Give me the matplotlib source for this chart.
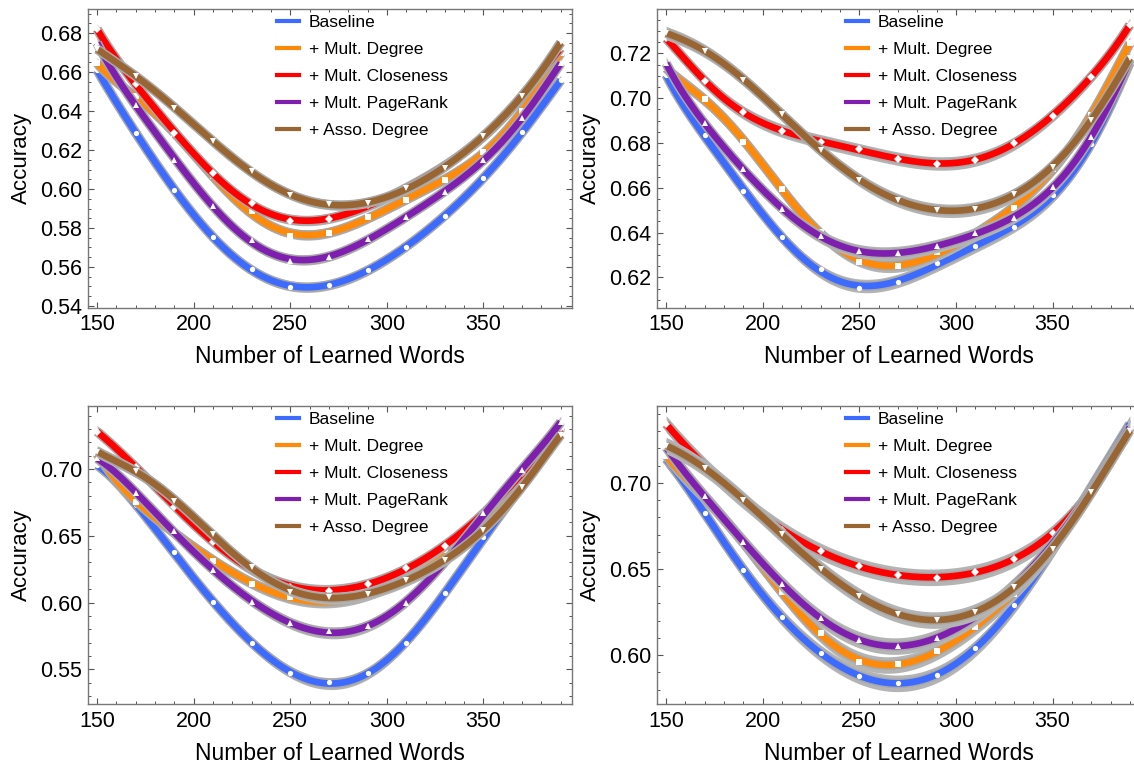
import matplotlib.pyplot as plt
import numpy as np
from matplotlib.lines import Line2D
from matplotlib.ticker import MultipleLocator, FormatStrFormatter

plt.rcParams['font.family'] = ['Liberation Sans', 'DejaVu Sans']

words = np.arange(150, 391, 20)

labels = ['Baseline', '+ Mult. Degree', '+ Mult. Closeness', '+ Mult. PageRank', '+ Asso. Degree']
colors = ['#3D6BFF', '#FF8A0A', '#FF0000', '#7E1FAF', '#996633']
markers = ['o', 's', 'D', '^', 'v']

# panel (a) top left
acc_a = [
    [0.661, 0.629, 0.5994, 0.5755, 0.5588, 0.5497, 0.551, 0.5584, 0.5704, 0.5864, 0.6057, 0.6291, 0.6558],
    [0.6646, 0.6476, 0.628, 0.6066, 0.5887, 0.5759, 0.5776, 0.5858, 0.5946, 0.6044, 0.6189, 0.6399, 0.6698],
    [0.682, 0.654, 0.6288, 0.608, 0.593, 0.5835, 0.5847, 0.5917, 0.6006, 0.6117, 0.627, 0.6476, 0.6723],
    [0.6749, 0.6433, 0.6151, 0.5912, 0.5738, 0.563, 0.5653, 0.5745, 0.5858, 0.5986, 0.6148, 0.6365, 0.6646],
    [0.6718, 0.6581, 0.6416, 0.6245, 0.6091, 0.5967, 0.5921, 0.5929, 0.6006, 0.6109, 0.6274, 0.6479, 0.6752],
]
# panel (b) top right
acc_b = [
    [0.7103, 0.6834, 0.6585, 0.6382, 0.6237, 0.6152, 0.6182, 0.6263, 0.6342, 0.6424, 0.6566, 0.6797, 0.7158],
    [0.7133, 0.6996, 0.6804, 0.6596, 0.6404, 0.6267, 0.6252, 0.6312, 0.6394, 0.651, 0.6685, 0.6924, 0.7245],
    [0.7267, 0.7076, 0.6939, 0.6854, 0.6804, 0.6772, 0.673, 0.6707, 0.6725, 0.68, 0.6921, 0.7096, 0.7327],
    [0.7155, 0.6887, 0.6682, 0.6506, 0.6387, 0.6316, 0.6307, 0.6342, 0.6397, 0.6466, 0.6603, 0.6827, 0.717],
    [0.729, 0.7212, 0.7081, 0.6928, 0.677, 0.6633, 0.6546, 0.6501, 0.6506, 0.6573, 0.6693, 0.6904, 0.7178],
]
# panel (c) bottom left
acc_c = [
    [0.703, 0.673, 0.6376, 0.6007, 0.5695, 0.5475, 0.5405, 0.5475, 0.5695, 0.6069, 0.6493, 0.6868, 0.7317],
    [0.7117, 0.6755, 0.6531, 0.6314, 0.6139, 0.6039, 0.6014, 0.6057, 0.6181, 0.6394, 0.6643, 0.6948, 0.7304],
    [0.728, 0.7017, 0.6718, 0.6456, 0.6256, 0.6119, 0.6089, 0.6139, 0.6256, 0.6424, 0.6668, 0.6968, 0.7304],
    [0.708, 0.6818, 0.6536, 0.6244, 0.6007, 0.5845, 0.5787, 0.5825, 0.5999, 0.6301, 0.6668, 0.6993, 0.7354],
    [0.713, 0.6985, 0.676, 0.6511, 0.6264, 0.6082, 0.6039, 0.6064, 0.6169, 0.6319, 0.6543, 0.6868, 0.7255],
]
# panel (d) bottom right
acc_d = [
    [0.7139, 0.6824, 0.6492, 0.6222, 0.601, 0.5878, 0.584, 0.5884, 0.6039, 0.629, 0.6608, 0.6975, 0.7342],
    [0.7158, 0.6917, 0.6647, 0.6367, 0.6129, 0.5961, 0.5948, 0.6025, 0.6164, 0.6357, 0.6627, 0.6956, 0.7313],
    [0.7342, 0.71, 0.6898, 0.6728, 0.6602, 0.6517, 0.6463, 0.645, 0.6483, 0.6556, 0.6708, 0.6956, 0.7322],
    [0.7207, 0.6921, 0.6656, 0.6415, 0.6216, 0.6087, 0.6052, 0.6102, 0.6222, 0.6402, 0.6647, 0.6956, 0.7322],
    [0.7216, 0.7087, 0.6898, 0.6701, 0.6502, 0.6342, 0.6236, 0.6203, 0.6251, 0.6396, 0.6618, 0.6946, 0.7303],
]

# half width of the grey confidence band, one per panel
band_half = [0.0026, 0.003, 0.0045, 0.0048]


def draw_panel(ax, acc, band, ylim, major, minor):
    xs = np.linspace(words[0], words[-1], 300)
    for i, ys in enumerate(acc):
        fit = np.polynomial.Polynomial.fit(words, ys, 7)
        ys_fit = fit(xs)
        z = 2 + i
        ax.fill_between(xs, ys_fit - band, ys_fit + band, color='#B4B4B4', lw=0, zorder=z)
        ax.plot(xs, ys_fit, color='#A8A8A8', lw=7.0, solid_capstyle='butt', zorder=z)
        ax.plot(xs, ys_fit, color=colors[i], lw=4.8, solid_capstyle='butt', zorder=z)
        ax.plot(words, ys, ls='none', marker=markers[i], ms=3.8, mfc='white', mec='white', mew=0, zorder=z)
    ax.set_xlim(145.3, 395.8)
    ax.set_ylim(*ylim)
    ax.xaxis.set_major_locator(MultipleLocator(50))
    ax.xaxis.set_minor_locator(MultipleLocator(10))
    ax.yaxis.set_major_locator(MultipleLocator(major))
    ax.yaxis.set_minor_locator(MultipleLocator(minor))
    ax.yaxis.set_major_formatter(FormatStrFormatter('%.2f'))
    ax.tick_params(which='both', direction='in', top=True, right=True, color='#555555', labelsize=15.5)
    ax.tick_params(which='major', length=4.5, width=0.8)
    ax.tick_params(which='minor', length=2.5, width=0.7)
    ax.tick_params(axis='x', pad=5)
    ax.tick_params(axis='y', pad=4)
    for s in ax.spines.values():
        s.set_color('#777777')
        s.set_linewidth(1.0)
    ax.set_xlabel('Number of Learned Words', fontsize=16.5, labelpad=7)
    ax.set_ylabel('Accuracy', fontsize=16, labelpad=6)
    handles = [Line2D([], [], color=c, lw=3) for c in colors]
    ax.legend(handles, labels, loc='upper left', bbox_to_anchor=(0.39, 0.98), frameon=False,
              fontsize=12.5, handlelength=1.3, handletextpad=0.55, labelspacing=0.68,
              borderpad=0, borderaxespad=0)


def main():
    fig = plt.figure(figsize=(11.34, 7.64), dpi=100)
    w, h = 0.4268, 0.3905
    ax1 = fig.add_axes([0.0776, 0.5975, w, h])
    ax2 = fig.add_axes([0.5794, 0.5975, w, h])
    ax3 = fig.add_axes([0.0776, 0.0785, w, h])
    ax4 = fig.add_axes([0.5794, 0.0785, w, h])

    draw_panel(ax1, acc_a, band_half[0], (0.5392, 0.6923), 0.02, 0.005)
    draw_panel(ax2, acc_b, band_half[1], (0.6066, 0.7397), 0.02, 0.005)
    draw_panel(ax3, acc_c, band_half[2], (0.524, 0.7474), 0.05, 0.01)
    draw_panel(ax4, acc_d, band_half[3], (0.5716, 0.7448), 0.05, 0.01)

    fig.savefig('out.png', dpi=100, facecolor='white')


if __name__ == '__main__':
    main()
